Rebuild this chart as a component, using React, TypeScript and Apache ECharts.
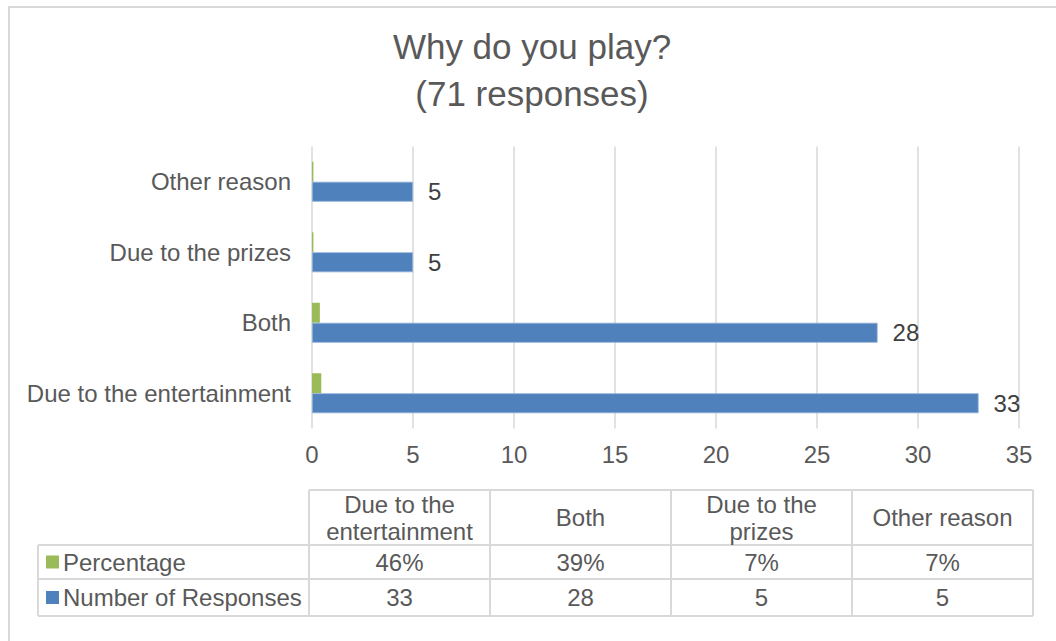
import React, { useEffect, useRef } from "react";
import * as echarts from "echarts";

const titleLines = ["Why do you play?", "(71 responses)"];
const categories = ["Due to the entertainment", "Both", "Due to the prizes", "Other reason"];
const percentage = [0.46, 0.39, 0.07, 0.07];
const responses = [33, 28, 5, 5];
const seriesNames = ["Percentage", "Number of Responses"];
const seriesColors = ["#9bbb59", "#4f81bd"];
const xMin = 0;
const xMax = 35;
const xInterval = 5;

const FONT = "'Liberation Sans', Arial, sans-serif";

function wrapText(text: string, maxWidth: number, font: string): string {
  const canvas = document.createElement("canvas");
  const ctx = canvas.getContext("2d");
  if (!ctx) return text;
  ctx.font = font;
  const words = text.split(" ");
  const lines: string[] = [];
  let cur = "";
  for (const w of words) {
    const test = cur ? cur + " " + w : w;
    if (ctx.measureText(test).width > maxWidth && cur) {
      lines.push(cur);
      cur = w;
    } else {
      cur = test;
    }
  }
  if (cur) lines.push(cur);
  return lines.join("\n");
}

export default function App() {
  const ref = useRef<HTMLDivElement>(null);
  useEffect(() => {
    if (!ref.current) return;
    const chart = echarts.init(ref.current, undefined, { renderer: "svg" });

    const gridLeft = 312;
    const gridTop = 146.5;
    const gridRight = 37;
    const gridBottom = 641 - 428.5;

    // table geometry
    const tLeft = 38;
    const tTop = 490;
    const colStart = 309;
    const colW = 181;
    const hdrBottom = 545;
    const r1Bottom = 579;
    const r2Bottom = 616;
    const tRight = colStart + colW * categories.length;
    const lineStyle = { stroke: "#d9d9d9", lineWidth: 2 };
    const textColor = "#595959";

    const graphics: any[] = [];
    // outer border
    graphics.push({
      type: "rect",
      shape: { x: 9, y: 7, width: 1100, height: 700 },
      style: { fill: "none", stroke: "#d9d9d9", lineWidth: 2 },
      silent: true,
      z: 0,
    });
    // horizontal table lines
    const hLines: [number, number, number][] = [
      [colStart, tRight, tTop],
      [tLeft, tRight, hdrBottom],
      [tLeft, tRight, r1Bottom],
      [tLeft, tRight, r2Bottom],
    ];
    hLines.forEach(([x1, x2, y]) =>
      graphics.push({ type: "line", shape: { x1, y1: y, x2, y2: y }, style: lineStyle, silent: true })
    );
    graphics.push({ type: "line", shape: { x1: tLeft, y1: hdrBottom, x2: tLeft, y2: r2Bottom }, style: lineStyle, silent: true });
    for (let i = 0; i <= categories.length; i++) {
      const x = colStart + colW * i;
      graphics.push({ type: "line", shape: { x1: x, y1: tTop, x2: x, y2: r2Bottom }, style: lineStyle, silent: true });
    }
    // header texts
    const font = "24px " + FONT;
    categories.forEach((c, i) => {
      graphics.push({
        type: "text",
        x: colStart + colW * i + colW / 2,
        y: (tTop + hdrBottom) / 2,
        style: {
          text: wrapText(c, colW - 14, font),
          font,
          fill: textColor,
          align: "center",
          verticalAlign: "middle",
          lineHeight: 27,
        },
        silent: true,
      });
    });
    // rows
    const rowData = [
      { name: seriesNames[0], color: seriesColors[0], vals: percentage.map((v) => Math.round(v * 100) + "%"), y: (hdrBottom + r1Bottom) / 2 },
      { name: seriesNames[1], color: seriesColors[1], vals: responses.map((v) => String(v)), y: (r1Bottom + r2Bottom) / 2 },
    ];
    rowData.forEach((r) => {
      graphics.push({
        type: "rect",
        shape: { x: 46, y: r.y - 6.5, width: 13, height: 13 },
        style: { fill: r.color },
        silent: true,
      });
      graphics.push({
        type: "text",
        x: 63,
        y: r.y,
        style: { text: r.name, font, fill: textColor, align: "left", verticalAlign: "middle" },
        silent: true,
      });
      r.vals.forEach((v, i) => {
        graphics.push({
          type: "text",
          x: colStart + colW * i + colW / 2,
          y: r.y,
          style: { text: v, font, fill: textColor, align: "center", verticalAlign: "middle" },
          silent: true,
        });
      });
    });

    chart.setOption({
      animation: false,
      backgroundColor: "#ffffff",
      title: {
        text: titleLines.join("\n"),
        left: 527,
        textAlign: "center",
        top: 18,
        textStyle: {
          fontFamily: FONT,
          fontSize: 35,
          fontWeight: "normal",
          color: "#595959",
          lineHeight: 47,
        },
      },
      grid: { left: gridLeft, top: gridTop, right: gridRight, bottom: gridBottom, containLabel: false },
      xAxis: {
        type: "value",
        min: xMin,
        max: xMax,
        interval: xInterval,
        axisLine: { show: false },
        axisTick: { show: false },
        splitLine: { show: true, lineStyle: { color: "#d9d9d9", width: 1.5 } },
        axisLabel: { color: "#595959", fontSize: 24, fontFamily: FONT, margin: 14 },
      },
      yAxis: {
        type: "category",
        data: categories,
        axisLine: { show: false },
        axisTick: { show: false },
        axisLabel: { color: "#595959", fontSize: 24, fontFamily: FONT, margin: 21 },
      },
      series: [
        {
          name: seriesNames[0],
          type: "bar",
          data: percentage,
          barWidth: 20,
          barGap: "0%",
          itemStyle: { color: seriesColors[0] },
        },
        {
          name: seriesNames[1],
          type: "bar",
          data: responses,
          barWidth: 20,
          barGap: "0%",
          itemStyle: { color: seriesColors[1], borderColor: "#8fb0d8", borderWidth: 0.8 },
          label: {
            show: true,
            position: "right",
            distance: 15,
            color: "#404040",
            fontSize: 24,
            fontFamily: FONT,
          },
        },
      ],
      graphic: graphics,
    });
    return () => chart.dispose();
  }, []);
  return (
    <div
      ref={ref}
      style={{ position: "fixed", left: 0, top: 0, width: 1056, height: 641, background: "#fff" }}
    />
  );
}
